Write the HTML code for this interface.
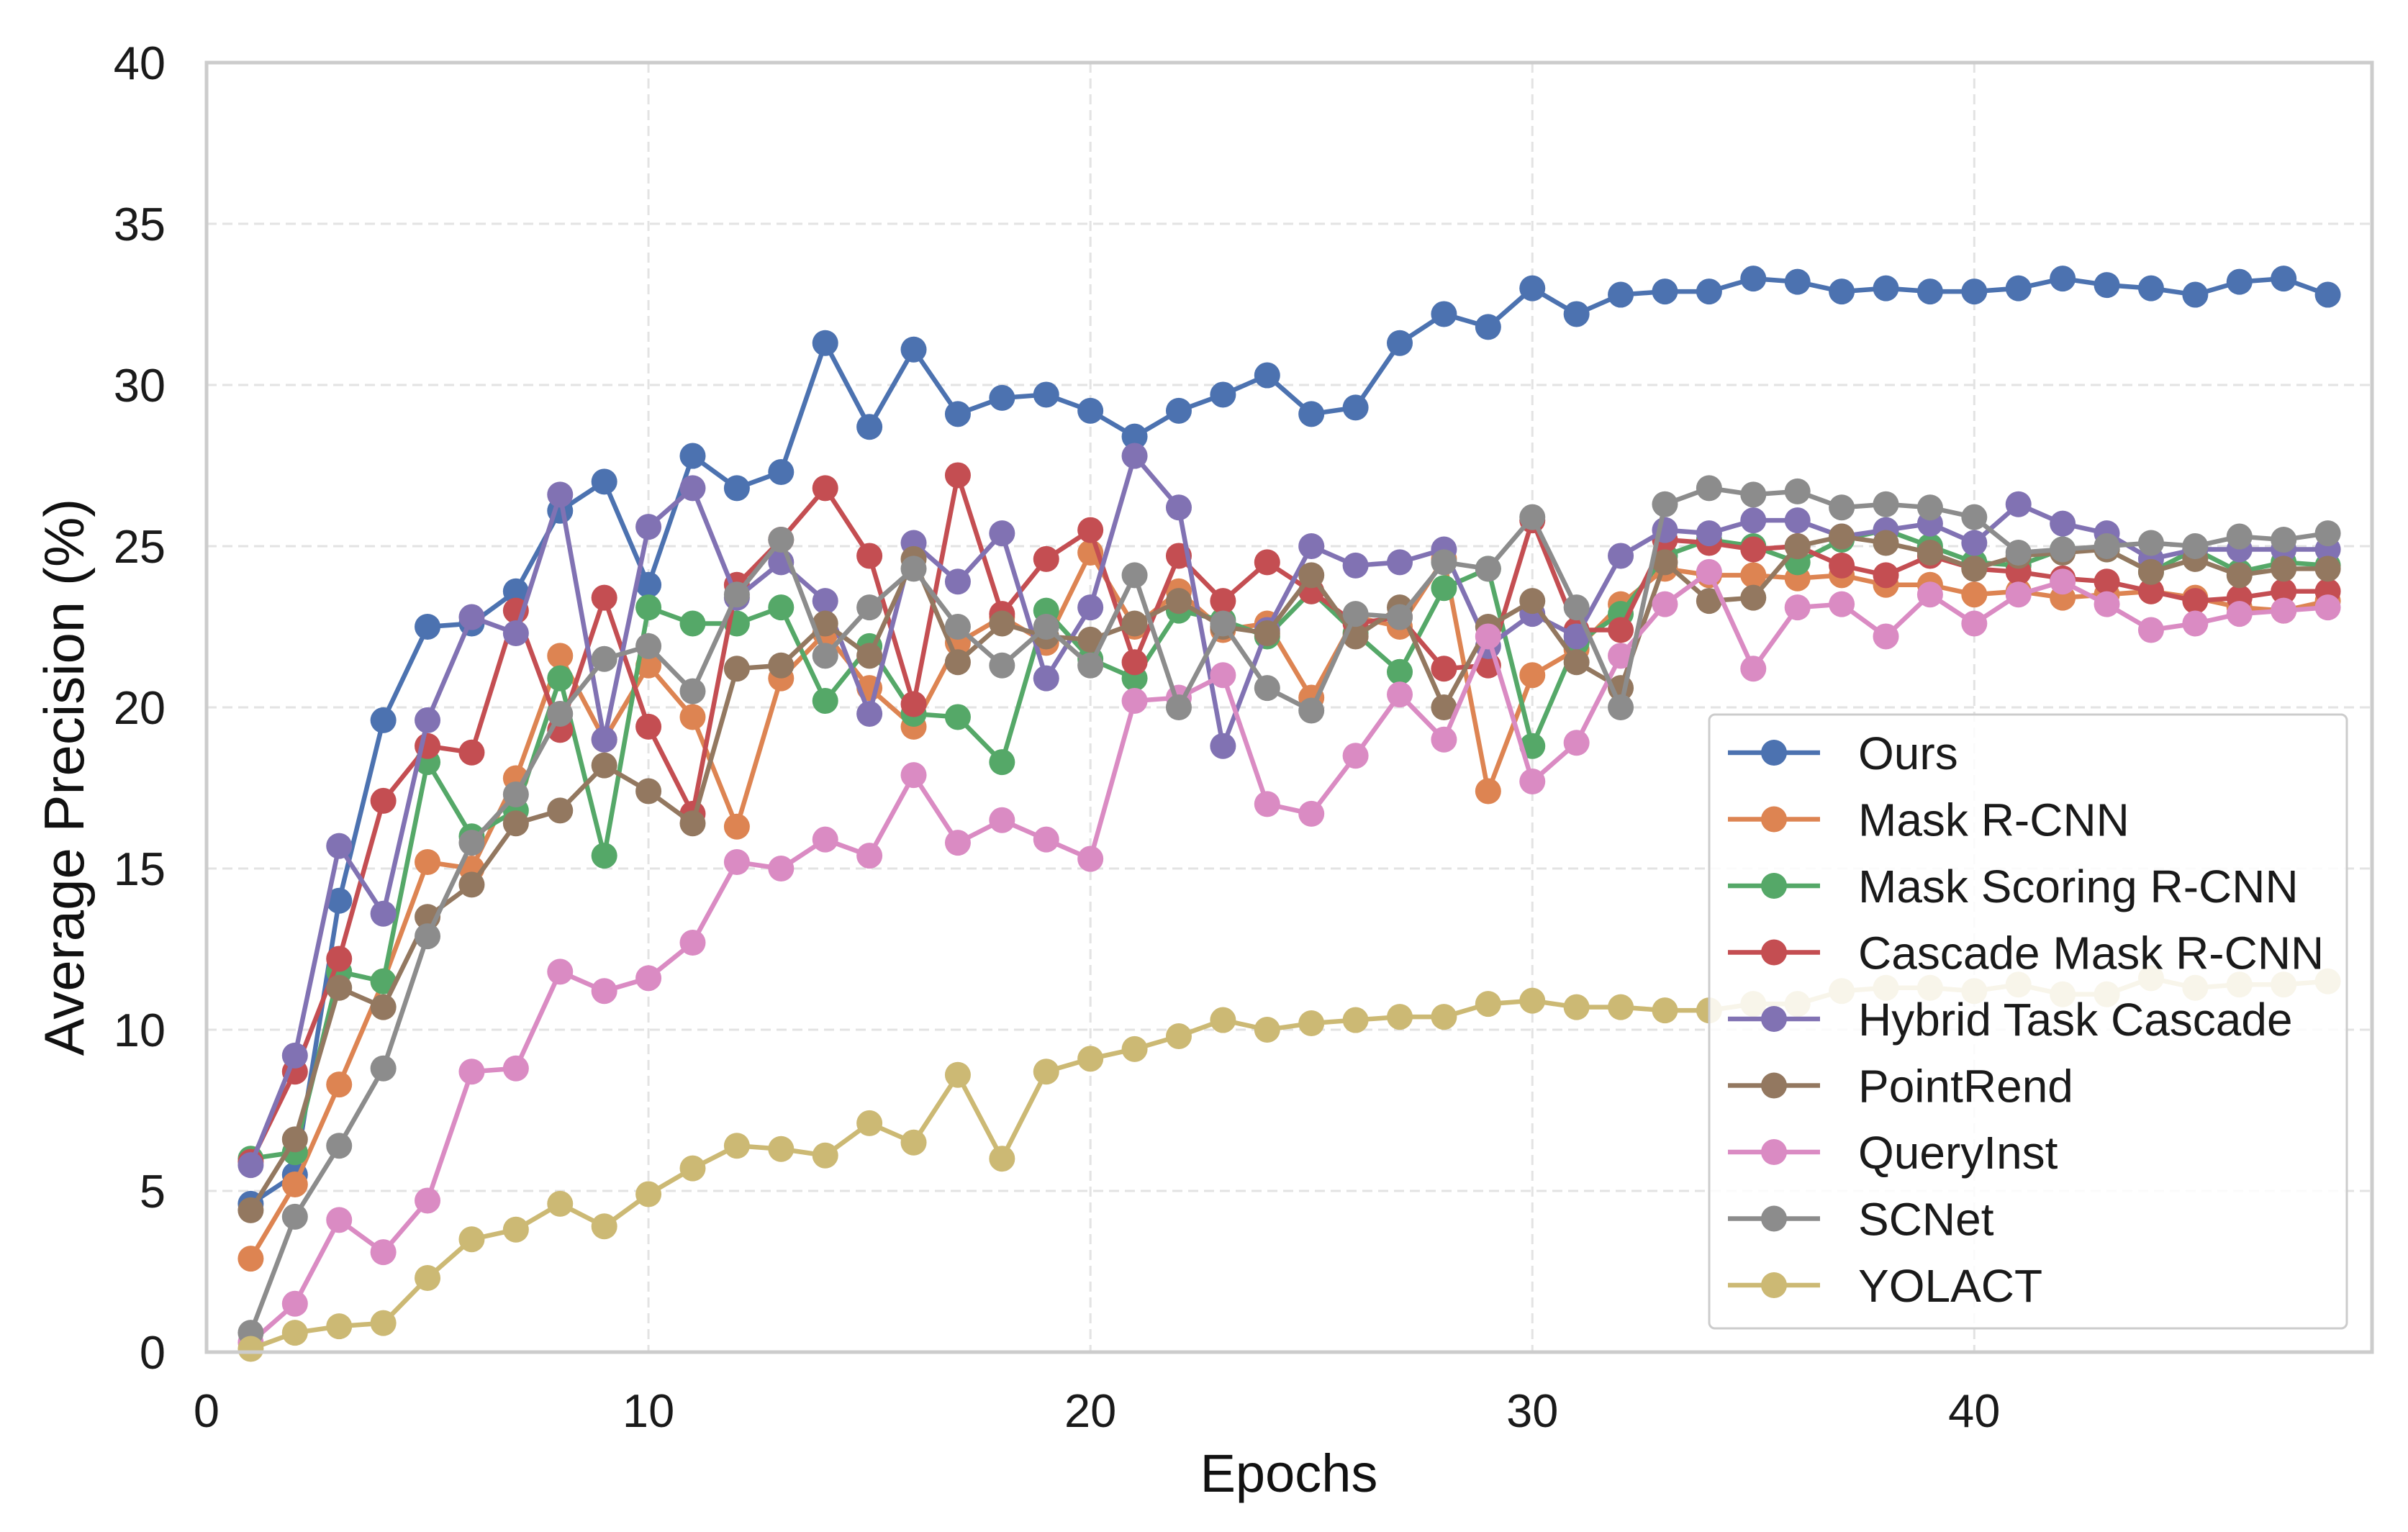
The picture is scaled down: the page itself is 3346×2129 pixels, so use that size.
<!DOCTYPE html>
<html><head><meta charset="utf-8">
<style>
html,body{margin:0;padding:0;background:#fff;}
svg{display:block;font-family:"Liberation Sans",Arial,sans-serif;}
</style></head>
<body>
<svg id="chart" width="3346" height="2129" viewBox="0 0 3346 2129" xmlns="http://www.w3.org/2000/svg">
<rect x="0" y="0" width="3346" height="2129" fill="#fff"/>
<g id="grid"></g>
<g id="series"></g>
<rect x="287" y="87" width="3009" height="1792" fill="none" stroke="#cccccc" stroke-width="5"/>
<g id="ticks" font-size="65" fill="#1a1a1a"></g>
<text x="1791" y="2073" font-size="74" text-anchor="middle" fill="#111">Epochs</text>
<text x="0" y="0" font-size="78" text-anchor="middle" fill="#111" transform="translate(116,1080) rotate(-90)">Average Precision (%)</text>
<g id="legend"></g>
</svg>
<script>
const seriesNames = ["Ours","Mask R-CNN","Mask Scoring R-CNN","Cascade Mask R-CNN","Hybrid Task Cascade","PointRend","QueryInst","SCNet","YOLACT"];
const seriesColors = ["#4C72B0","#DD8452","#55A868","#C44E52","#8172B3","#937860","#DA8BC3","#8C8C8C","#CCB974"];
const ours = [4.6,5.5,14.0,19.6,22.5,22.6,23.6,26.1,27.0,23.8,27.8,26.8,27.3,31.3,28.7,31.1,29.1,29.6,29.7,29.2,28.4,29.2,29.7,30.3,29.1,29.3,31.3,32.2,31.8,33.0,32.2,32.8,32.9,32.9,33.3,33.2,32.9,33.0,32.9,32.9,33.0,33.3,33.1,33.0,32.8,33.2,33.3,32.8];
const maskRcnn = [2.9,5.2,8.3,11.5,15.2,15.0,17.8,21.6,19.0,21.3,19.7,16.3,20.9,22.3,20.6,19.4,22.0,22.8,22.0,24.8,22.5,23.6,22.4,22.6,20.3,22.8,22.5,24.6,17.4,21.0,21.8,23.2,24.3,24.1,24.1,24.0,24.1,23.8,23.8,23.5,23.6,23.4,23.5,23.6,23.4,23.1,23.0,23.3];
const maskScoring = [6.0,6.2,11.8,11.5,18.3,16.0,16.8,20.9,15.4,23.1,22.6,22.6,23.1,20.2,21.9,19.8,19.7,18.3,23.0,21.5,20.9,23.0,22.7,22.2,23.6,22.3,21.1,23.7,24.3,18.8,22.0,22.9,24.7,25.2,25.0,24.5,25.2,25.5,25.0,24.5,24.4,24.9,24.9,24.2,24.9,24.2,24.5,24.4];
const cascade = [5.9,8.7,12.2,17.1,18.8,18.6,23.0,19.3,23.4,19.4,16.7,23.8,25.2,26.8,24.7,20.1,27.2,22.9,24.6,25.5,21.4,24.7,23.3,24.5,23.6,22.6,22.8,21.2,21.3,25.8,22.4,22.4,25.2,25.1,24.9,25.0,24.4,24.1,24.7,24.3,24.2,24.0,23.9,23.6,23.3,23.4,23.6,23.6];
const htc = [5.8,9.2,15.7,13.6,19.6,22.8,22.3,26.6,19.0,25.6,26.8,23.4,24.5,23.3,19.8,25.1,23.9,25.4,20.9,23.1,27.8,26.2,18.8,22.4,25.0,24.4,24.5,24.9,21.9,22.9,22.2,24.7,25.5,25.4,25.8,25.8,25.3,25.5,25.7,25.1,26.3,25.7,25.4,24.6,24.9,24.9,24.9,24.9];
const pointRend = [4.4,6.6,11.3,10.7,13.5,14.5,16.4,16.8,18.2,17.4,16.4,21.2,21.3,22.6,21.6,24.6,21.4,22.6,22.2,22.1,22.6,23.3,22.5,22.3,24.1,22.2,23.1,20.0,22.5,23.3,21.4,20.6,24.5,23.3,23.4,25.0,25.3,25.1,24.8,24.3,24.7,24.8,24.9,24.2,24.6,24.1,24.3,24.3];
const queryInst = [0.3,1.5,4.1,3.1,4.7,8.7,8.8,11.8,11.2,11.6,12.7,15.2,15.0,15.9,15.4,17.9,15.8,16.5,15.9,15.3,20.2,20.3,21.0,17.0,16.7,18.5,20.4,19.0,22.2,17.7,18.9,21.6,23.2,24.2,21.2,23.1,23.2,22.2,23.5,22.6,23.5,23.9,23.2,22.4,22.6,22.9,23.0,23.1];
const scnet = [0.6,4.2,6.4,8.8,12.9,15.8,17.3,19.8,21.5,21.9,20.5,23.5,25.2,21.6,23.1,24.3,22.5,21.3,22.5,21.3,24.1,20.0,22.6,20.6,19.9,22.9,22.8,24.5,24.3,25.9,23.1,20.0,26.3,26.8,26.6,26.7,26.2,26.3,26.2,25.9,24.8,24.9,25.0,25.1,25.0,25.3,25.2,25.4];
const yolact = [0.1,0.6,0.8,0.9,2.3,3.5,3.8,4.6,3.9,4.9,5.7,6.4,6.3,6.1,7.1,6.5,8.6,6.0,8.7,9.1,9.4,9.8,10.3,10.0,10.2,10.3,10.4,10.4,10.8,10.9,10.7,10.7,10.6,10.6,10.8,10.8,11.2,11.3,11.3,11.2,11.4,11.1,11.1,11.6,11.3,11.4,11.4,11.5];
const xTicks = [0,10,20,30,40];
const yTicks = [0,5,10,15,20,25,30,35,40];

const NS="http://www.w3.org/2000/svg";
const X0=287,X1=3296,Y0=1879,Y1=87;
const xScale=v=>X0+v*(X1-X0)/49;
const yScale=v=>Y0-v*(Y0-Y1)/40;
function mk(tag,attrs,parent){const e=document.createElementNS(NS,tag);for(const k in attrs)e.setAttribute(k,attrs[k]);parent.appendChild(e);return e;}
const grid=document.getElementById('grid'),ticks=document.getElementById('ticks');
xTicks.forEach(t=>{
  const l=mk('line',{x1:xScale(t),x2:xScale(t),y1:Y1,y2:Y0,stroke:'#e3e3e3','stroke-width':3,'stroke-dasharray':'14,8'},grid);
  
  
  const tx=mk('text',{x:xScale(t),y:1983,'text-anchor':'middle'},ticks);tx.textContent=t;
  
  
});
yTicks.forEach(t=>{
  const l=mk('line',{x1:X0,x2:X1,y1:yScale(t),y2:yScale(t),stroke:'#e3e3e3','stroke-width':3,'stroke-dasharray':'14,8'},grid);
  
  
  const tx=mk('text',{x:230,y:yScale(t)+23,'text-anchor':'end'},ticks);tx.textContent=t;
  
  
});
const allData=[ours,maskRcnn,maskScoring,cascade,htc,pointRend,queryInst,scnet,yolact];
const sg=document.getElementById('series');
allData.forEach((d,i)=>{
  const g=mk('g',{},sg);
  
  
  const pts=d.map((v,j)=>xScale(j+1)+','+yScale(v)).join(' ');
  const pl=mk('polyline',{points:pts,fill:'none',stroke:seriesColors[i],'stroke-width':6.5,'stroke-linejoin':'round'},g);
  
  
  d.forEach((v,j)=>{
    const c=mk('circle',{cx:xScale(j+1),cy:yScale(v),r:18,fill:seriesColors[i]},g);
    
    
  });
});
const lg=document.getElementById('legend');
const box=mk('rect',{x:2375,y:993,width:886,height:853,rx:8,fill:'#fff','fill-opacity':0.85,stroke:'#cccccc','stroke-width':3},lg);


seriesNames.forEach((n,i)=>{
  const y=1046+i*92.5;
  const g=mk('g',{},lg);
  
  
  mk('line',{x1:2401,x2:2529,y1:y,y2:y,stroke:seriesColors[i],'stroke-width':6.5},g);
  mk('circle',{cx:2465,cy:y,r:18,fill:seriesColors[i]},g);
  const t=mk('text',{x:2582,y:y+23,'font-size':64,fill:'#1a1a1a'},g);t.textContent=n;
});
</script>
</body></html>
